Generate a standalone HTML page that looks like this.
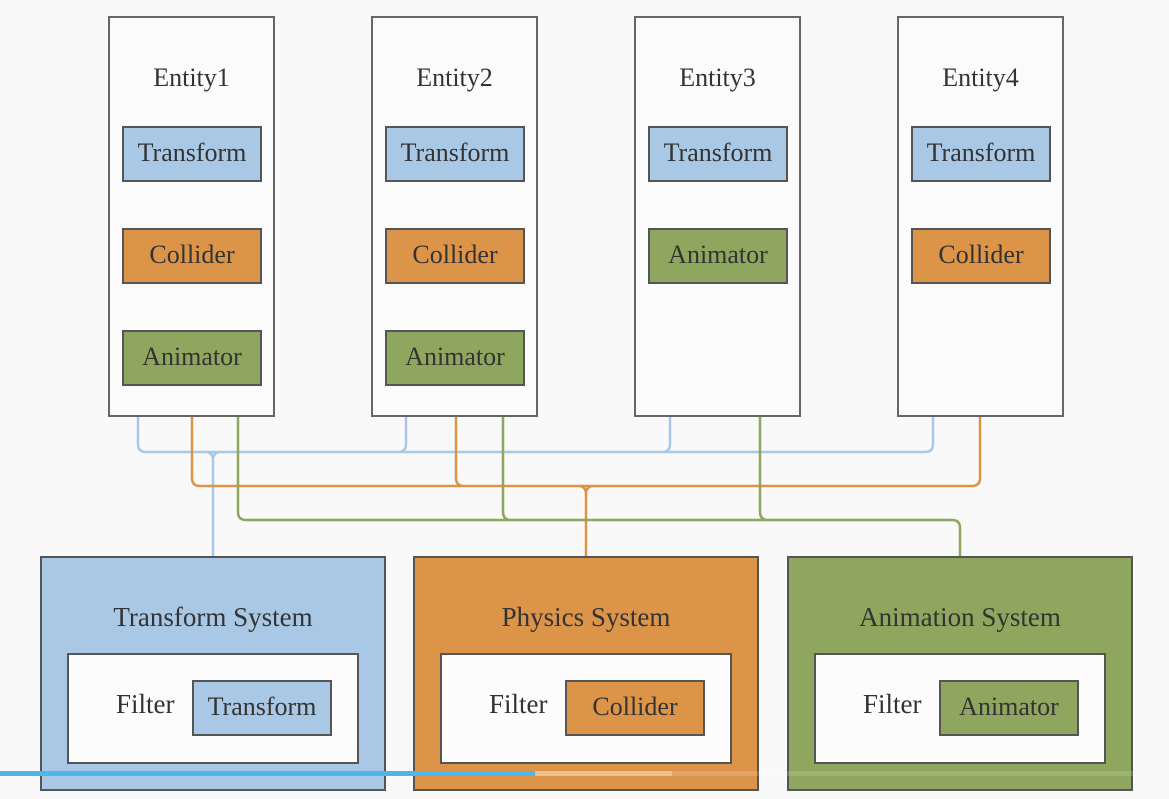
<!DOCTYPE html>
<html><head><style>
body{margin:0;width:1169px;height:799px;background:#f9f9f9;position:relative;overflow:hidden;font-family:"Liberation Serif",serif;color:#333}
.a{position:absolute;box-sizing:border-box}
.ent{border:2px solid #666;background:#fbfbfb;width:167px;height:401px;top:16px}
.et{font-size:26px;text-align:center;width:100%;top:45px}
.c{width:140px;height:56px;border:2px solid #555;font-size:26px;text-align:center;line-height:50px}
.b{background:#a9c8e6}.o{background:#dc9449}.g{background:#8ea65e}
.sys{width:346px;height:235px;top:556px;border:2px solid #555}
.st{font-size:27px;text-align:center;width:100%;top:44px}
.in{left:25px;top:95px;width:292px;height:111px;background:#fcfcfc;border:2px solid #555}
.f{font-size:27px;left:47px;top:34px}
.ch{left:123px;top:25px}
</style></head><body>
<svg class="a" style="left:0;top:0" width="1169" height="799" fill="none" stroke-width="2.5">
<g stroke="#a9c8e6"><path d="M138 417V444q0 8 8 8H925q8 0 8-8V417M406 417V444q0 8-8 8M670 417V444q0 8-8 8M213 556V460q0-8 8-8M213 460q0-8-8-8"/></g>
<g stroke="#dc9449"><path d="M192 417V478q0 8 8 8H972q8 0 8-8V417M456 417V478q0 8 8 8M586 556V494q0-8 8-8M586 494q0-8-8-8"/></g>
<g stroke="#8ea65e"><path d="M238 417V512q0 8 8 8H952q8 0 8 8V556M503 417V512q0 8 8 8M760 417V512q0 8 8 8"/></g>
</svg>
<div class="a ent" style="left:108px"><div class="a et">Entity1</div></div>
<div class="a ent" style="left:371px"><div class="a et">Entity2</div></div>
<div class="a ent" style="left:634px"><div class="a et">Entity3</div></div>
<div class="a ent" style="left:897px"><div class="a et">Entity4</div></div>
<div class="a c b" style="left:122px;top:126px">Transform</div>
<div class="a c o" style="left:122px;top:228px">Collider</div>
<div class="a c g" style="left:122px;top:330px">Animator</div>
<div class="a c b" style="left:385px;top:126px">Transform</div>
<div class="a c o" style="left:385px;top:228px">Collider</div>
<div class="a c g" style="left:385px;top:330px">Animator</div>
<div class="a c b" style="left:648px;top:126px">Transform</div>
<div class="a c g" style="left:648px;top:228px">Animator</div>
<div class="a c b" style="left:911px;top:126px">Transform</div>
<div class="a c o" style="left:911px;top:228px">Collider</div>
<div class="a sys b" style="left:40px"><div class="a st">Transform System</div><div class="a in"><div class="a f">Filter</div><div class="a c b ch">Transform</div></div></div>
<div class="a sys o" style="left:413px"><div class="a st">Physics System</div><div class="a in"><div class="a f">Filter</div><div class="a c o ch">Collider</div></div></div>
<div class="a sys g" style="left:787px"><div class="a st">Animation System</div><div class="a in"><div class="a f">Filter</div><div class="a c g ch">Animator</div></div></div>
<div class="a" style="left:0;top:771px;width:535px;height:5px;background:#4ab8e8"></div>
<div class="a" style="left:535px;top:771px;width:137px;height:5px;background:rgba(255,255,255,0.4)"></div>
<div class="a" style="left:672px;top:771px;width:461px;height:5px;background:rgba(255,255,255,0.15)"></div>
</body></html>
